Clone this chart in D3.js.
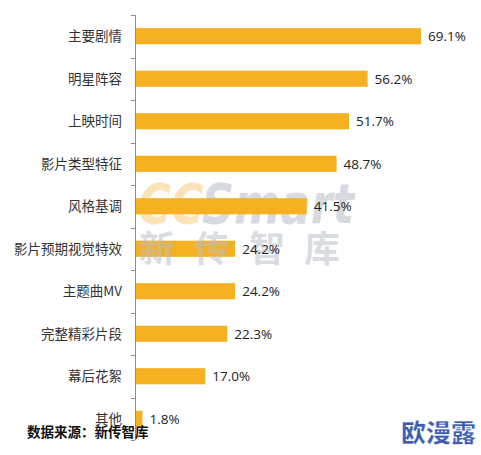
<!DOCTYPE html>
<html><head><meta charset="utf-8">
<script src="https://cdn.jsdelivr.net/npm/d3@7"></script>
<style>
html,body{margin:0;padding:0;background:#fff;}
svg{display:block;}
</style></head>
<body>
<script>
const categories = ["主要剧情","明星阵容","上映时间","影片类型特征","风格基调","影片预期视觉特效","主题曲MV","完整精彩片段","幕后花絮","其他"];
const values = [69.1,56.2,51.7,48.7,41.5,24.2,24.2,22.3,17.0,1.8];
const valueLabels = ["69.1%","56.2%","51.7%","48.7%","41.5%","24.2%","24.2%","22.3%","17.0%","1.8%"];

const W = 481, H = 455;
const svg = d3.select("body").append("svg").attr("width", W).attr("height", H);

const x = d3.scaleLinear().domain([0, 69.1]).range([135, 421]);
const y = d3.scaleBand().domain(categories).range([15, 440]).paddingInner(0.62).paddingOuter(0.31);

// watermark
svg.append("text").attr("x", 138).attr("y", 223)
  .attr("font-family", "DejaVu Sans, Liberation Sans, sans-serif")
  .attr("font-weight", "bold").attr("font-style", "italic")
  .attr("font-size", 56).attr("textLength", 216).attr("lengthAdjust", "spacingAndGlyphs")
  .selectAll("tspan").data([["CC","#f9d9a0"],["Smart","#c9ced6"]]).join("tspan")
  .attr("fill", d => d[1]).attr("fill-opacity", 0.75).text(d => d[0]);

// bars
svg.append("g").selectAll("rect").data(values).join("rect")
  .attr("x", x(0)).attr("y", (d,i) => y(categories[i]))
  .attr("width", d => x(d) - x(0)).attr("height", y.bandwidth())
  .attr("fill", "#F5B122");

// watermark chinese (over bars, translucent)
svg.append("text").attr("x", 139).attr("y", 262)
  .attr("font-family", "Noto Sans CJK SC, sans-serif").attr("font-weight", "bold")
  .attr("font-size", 36).attr("letter-spacing", 19)
  .attr("fill", "#b8bec8").attr("fill-opacity", 0.55).text("新传智库");

// axis
const band = y.step();
const tickYs = d3.range(categories.length + 1).map(i => y.range()[0] + i * band);
svg.append("line").attr("x1", 135.5).attr("x2", 135.5).attr("y1", 15).attr("y2", 440)
  .attr("stroke", "#8c8c8c").attr("stroke-width", 1);
svg.append("g").selectAll("line").data(tickYs).join("line")
  .attr("x1", 131).attr("x2", 135).attr("y1", d => Math.round(d) + 0.5).attr("y2", d => Math.round(d) + 0.5)
  .attr("stroke", "#8c8c8c");

// category labels
svg.append("g").selectAll("text").data(categories).join("text")
  .attr("x", 122).attr("y", d => y(d) + y.bandwidth() / 2)
  .attr("dy", "0.36em").attr("text-anchor", "end")
  .attr("font-family", "Noto Sans CJK SC, sans-serif").attr("font-size", 13.5)
  .attr("fill", "#333").text(d => d);

// value labels
svg.append("g").selectAll("text").data(values).join("text")
  .attr("x", d => x(d) + 7).attr("y", (d,i) => y(categories[i]) + y.bandwidth() / 2)
  .attr("dy", "0.36em")
  .attr("font-family", "Open Sans, sans-serif").attr("font-size", 13.5)
  .attr("fill", "#222").text((d,i) => valueLabels[i]);

// source
svg.append("text").attr("x", 27).attr("y", 437)
  .attr("font-family", "Noto Sans CJK SC, sans-serif").attr("font-weight", "bold")
  .attr("font-size", 13.5).attr("fill", "#111").text("数据来源：新传智库");

// corner watermark
svg.append("text").attr("x", 401).attr("y", 442)
  .attr("font-family", "Noto Sans CJK SC, sans-serif").attr("font-weight", "900")
  .attr("font-size", 25).attr("fill", "#3c5cb2")
  .attr("stroke", "#fff").attr("stroke-width", 0.5).text("欧漫露");
</script>
</body></html>
